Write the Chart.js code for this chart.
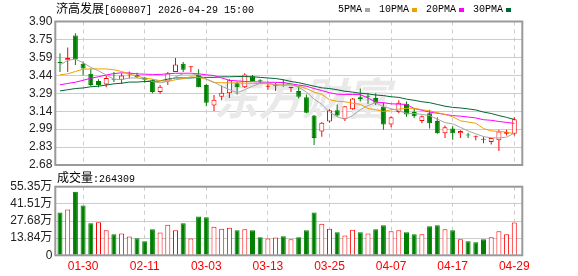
<!DOCTYPE html>
<html>
<head>
<meta charset="utf-8">
<title>济高发展 日K</title>
<script src="https://cdn.jsdelivr.net/npm/chart.js@4.4.1/dist/chart.umd.min.js"></script>
<style>
    html, body { margin: 0; padding: 0; background: #fff; }
    #wrap { position: relative; width: 578px; height: 276px; overflow: hidden; }
    #wrap canvas { position: absolute; left: 0; top: 0; }
    .txt { position: absolute; white-space: pre; color: #000; line-height: 12px; }
    .cjk { font-size: 12px; font-family: "Noto Sans CJK SC", sans-serif; }
    .asc { font-size: 10px; font-family: "Liberation Mono", monospace; }
    #legend { position: absolute; left: 338px; top: 4px; display: flex; align-items: center; line-height: 12px; }
    #legend .item { display: flex; align-items: center; margin-right: 9px; }
    #legend .mark { width: 5px; height: 4px; margin-left: 3px; }
</style>
</head>
<body>
<div id="wrap">
    <canvas id="price" width="578" height="276"></canvas>
    <canvas id="volume" width="578" height="276"></canvas>
    <div class="txt" style="left:56px;top:2px"><span class="cjk">济高发展</span><span class="asc">[600807] 2026-04-29 15:00</span></div>
    <div id="legend"></div>
    <div class="txt" style="left:57px;top:171px"><span class="cjk">成交量</span><span class="asc">:264309</span></div>
</div>
<script>
var dates = ['01-27','01-28','01-29','01-30','02-02','02-03','02-04','02-05','02-06','02-09',
             '02-10','02-11','02-12','02-13','02-24','02-25','02-26','02-27','03-02','03-03',
             '03-04','03-05','03-06','03-09','03-10','03-11','03-12','03-13','03-16','03-17',
             '03-18','03-19','03-20','03-23','03-24','03-25','03-26','03-27','03-30','03-31',
             '04-01','04-02','04-03','04-07','04-08','04-09','04-10','04-13','04-14','04-15',
             '04-16','04-17','04-20','04-21','04-22','04-23','04-24','04-27','04-28','04-29'];
var dateTicks = ['01-30','02-11','03-03','03-13','03-25','04-07','04-17','04-29'];

var opens  = [3.555,3.57,3.78,3.54,3.455,3.395,3.365,3.41,3.405,3.45,
              3.445,3.42,3.405,3.30,3.39,3.47,3.54,3.51,3.445,3.36,
              3.185,3.26,3.29,3.375,3.34,3.435,3.40,3.345,3.35,3.38,
              3.335,3.31,3.255,3.10,2.965,3.05,3.145,3.07,3.155,3.255,
              3.265,3.25,3.175,3.025,3.13,3.20,3.13,3.055,3.12,3.055,
              2.95,2.99,2.95,2.94,2.915,2.90,2.875,2.89,2.945,2.945];
var highs  = [3.63,3.68,3.80,3.56,3.50,3.41,3.44,3.47,3.46,3.475,
              3.465,3.43,3.41,3.36,3.47,3.59,3.555,3.52,3.495,3.37,
              3.275,3.355,3.41,3.39,3.46,3.445,3.41,3.39,3.38,3.41,
              3.345,3.35,3.28,3.105,3.045,3.155,3.195,3.18,3.25,3.33,
              3.29,3.29,3.21,3.095,3.23,3.22,3.165,3.10,3.15,3.085,
              3.015,3.01,2.975,2.955,2.93,2.92,2.91,2.98,2.98,3.085];
var lows   = [3.47,3.47,3.53,3.44,3.35,3.34,3.34,3.385,3.37,3.415,
              3.42,3.38,3.29,3.285,3.36,3.47,3.47,3.47,3.34,3.18,
              3.14,3.23,3.25,3.28,3.335,3.39,3.37,3.32,3.31,3.345,
              3.30,3.245,3.12,2.85,2.92,3.04,3.095,3.055,3.15,3.22,
              3.20,3.19,2.98,3.00,3.12,3.09,3.08,3.035,2.99,2.945,
              2.91,2.895,2.91,2.91,2.89,2.865,2.855,2.80,2.93,2.93];
var closes = [3.545,3.59,3.58,3.50,3.36,3.36,3.42,3.40,3.44,3.46,
              3.425,3.405,3.30,3.345,3.46,3.535,3.49,3.515,3.34,3.21,
              3.235,3.295,3.40,3.34,3.45,3.395,3.39,3.35,3.355,3.375,
              3.34,3.26,3.125,2.91,3.04,3.145,3.10,3.18,3.245,3.24,
              3.26,3.21,3.025,3.085,3.21,3.11,3.095,3.095,3.035,2.95,
              3.00,2.95,2.97,2.93,2.92,2.895,2.91,2.965,2.96,3.07];

var volumes = [346000,369000,513000,401000,258000,266000,202000,170000,175000,152000,
               138000,114000,210000,183000,247000,202000,258000,136000,314000,306000,
               231000,215000,223000,202000,210000,202000,146000,136000,144000,154000,
               130000,146000,202000,346000,255000,215000,186000,159000,207000,186000,
               175000,210000,242000,194000,202000,186000,170000,170000,234000,242000,
               210000,202000,130000,114000,106000,130000,146000,194000,170000,264309];
// R = red (hollow) volume bar, G = green (filled)
var volumeSide = 'GRGGGRRGRRGGGRRRGRGGRRRGRGGRRGRGGGRRGRRGRGGRRGGRGGRGRGGGRRRR';

var ma5  = [3.53,3.57,3.58,3.55,3.51,3.48,3.445,3.41,3.405,3.42,
            3.42,3.41,3.39,3.378,3.39,3.43,3.455,3.455,3.447,3.41,
            3.385,3.35,3.32,3.295,3.32,3.35,3.375,3.378,3.36,3.36,
            3.364,3.34,3.30,3.24,3.196,3.13,3.09,3.068,3.10,3.15,
            3.185,3.21,3.175,3.16,3.14,3.12,3.118,3.11,3.10,3.07,
            3.04,3.03,3.00,2.97,2.945,2.922,2.911,2.91,2.917,2.95];
var ma10 = [3.447,3.455,3.475,3.495,3.497,3.497,3.497,3.49,3.475,3.455,
            3.435,3.42,3.41,3.397,3.39,3.405,3.414,3.43,3.425,3.41,
            3.38,3.38,3.378,3.378,3.375,3.375,3.372,3.37,3.364,3.36,
            3.36,3.35,3.33,3.30,3.28,3.235,3.222,3.218,3.205,3.196,
            3.16,3.15,3.135,3.15,3.155,3.162,3.162,3.15,3.14,3.125,
            3.11,3.09,3.056,3.045,3.035,2.99,2.97,2.965,2.96,2.945];
var ma20 = [3.362,3.373,3.384,3.40,3.418,3.43,3.445,3.457,3.464,3.462,
            3.455,3.452,3.45,3.45,3.455,3.46,3.46,3.46,3.455,3.447,
            3.44,3.42,3.40,3.395,3.39,3.388,3.385,3.383,3.383,3.38,
            3.37,3.36,3.35,3.33,3.313,3.295,3.282,3.28,3.28,3.278,
            3.25,3.215,3.21,3.20,3.198,3.195,3.16,3.145,3.13,3.12,
            3.11,3.10,3.095,3.088,3.08,3.065,3.06,3.05,3.042,3.034];
var ma30 = [3.31,3.32,3.33,3.335,3.345,3.35,3.36,3.37,3.375,3.385,
            3.385,3.39,3.39,3.395,3.41,3.42,3.42,3.42,3.425,3.425,
            3.425,3.43,3.43,3.432,3.432,3.43,3.425,3.42,3.415,3.405,
            3.39,3.38,3.365,3.35,3.336,3.33,3.32,3.307,3.30,3.29,
            3.285,3.275,3.27,3.26,3.255,3.24,3.23,3.218,3.21,3.195,
            3.18,3.17,3.165,3.157,3.148,3.13,3.118,3.10,3.085,3.067];

var maLabels = ['5PMA', '10PMA', '20PMA', '30PMA'];
var priceTicks = ['2.68','2.83','2.99','3.14','3.29','3.44','3.59','3.75','3.90'];
var volumeTicks = ['0','13.84万','27.68万','41.51万','55.35万'];

(function () {
    "use strict";

    var RED = '#ff0000', GREEN = '#008000';
    var maColors = ['#a6a6a6', '#f0a000', '#ff00ff', '#006633'];
    var labelFont = {family: '"Liberation Sans", "Noto Sans CJK SC", sans-serif', size: 12};
    var priceMin = 2.68, priceMax = 3.90, volumeMax = 553500;
    var xMin = -0.61, xMax = 60.04;

    // Legend
    var legend = document.getElementById('legend');
    maLabels.forEach(function (name, k) {
        var item = document.createElement('div');
        item.className = 'item';
        item.innerHTML = '<span class="asc">' + name + '</span><span class="mark" style="background:' + maColors[k] + '"></span>';
        legend.appendChild(item);
    });

    // Panel frame
    var frame = {
        id: 'frame',
        afterDraw: function (chart) {
            var a = chart.chartArea, c = chart.ctx;
            c.save();
            c.strokeStyle = '#9a9a9a';
            c.lineWidth = 2;
            c.strokeRect(a.left, a.top, a.right - a.left, a.bottom - a.top);
            c.restore();
        }
    };

    // Watermark
    var watermark = {
        id: 'watermark',
        beforeDatasetsDraw: function (chart) {
            var c = chart.ctx;
            c.save();
            c.fillStyle = '#e9e9e9';
            c.font = 'italic bold 44px "Noto Sans CJK SC"';
            c.textBaseline = 'middle';
            c.fillText('东方财富', 214, 98);
            c.restore();
        }
    };

    function evenTicks(labels, min, max) {
        return function (scale) {
            scale.ticks = labels.map(function (l, k) {
                return {value: min + k * (max - min) / (labels.length - 1)};
            });
        };
    }

    function xAxis(showLabels) {
        return {
            type: 'linear', min: xMin, max: xMax, offset: false,
            afterBuildTicks: function (scale) {
                scale.ticks = dateTicks.map(function (d) { return {value: dates.indexOf(d)}; });
            },
            afterFit: function (scale) { scale.height = showLabels ? 20.7 : 0; },
            ticks: {
                display: showLabels, autoSkip: false, maxRotation: 0, padding: 4,
                color: RED, font: labelFont,
                callback: function (v) { return dates[v]; }
            },
            grid: {color: '#cccccc', drawTicks: false, offset: false},
            border: {display: false, dash: [4, 4]}
        };
    }

    function yAxis(labels, min, max) {
        return {
            min: min, max: max,
            afterBuildTicks: evenTicks(labels, min, max),
            afterFit: function (scale) { scale.width = 55.3; },
            ticks: {
                padding: 3, color: '#222', font: labelFont, autoSkip: false,
                callback: function (v, idx) { return labels[idx]; }
            },
            grid: {color: '#cccccc', drawTicks: false},
            border: {display: false}
        };
    }

    function line(values, k) {
        return {
            type: 'line', label: maLabels[k], order: 0,
            data: values.map(function (v, i) { return {x: i, y: v}; }),
            borderColor: maColors[k], borderWidth: 1, pointRadius: 0, tension: 0
        };
    }

    // Price Chart
    var up = opens.map(function (o, i) { return closes[i] >= o; });
    var candleColor = up.map(function (u) { return u ? RED : GREEN; });

    new Chart(document.getElementById('price'), {
        type: 'bar',
        data: {
            datasets: [{
                label: 'body', order: 1, grouped: false,
                data: opens.map(function (o, i) { return {x: i, y: [o, closes[i]]}; }),
                backgroundColor: up.map(function (u) { return u ? '#ffffff' : GREEN; }),
                borderColor: candleColor, borderWidth: 1, borderSkipped: false,
                barThickness: 5, minBarLength: 1, inflateAmount: 0
            }, {
                label: 'wick', order: 2, grouped: false,
                data: lows.map(function (l, i) { return {x: i, y: [l, highs[i]]}; }),
                backgroundColor: candleColor, borderWidth: 0,
                barThickness: 1, inflateAmount: 0
            },
            line(ma5, 0), line(ma10, 1), line(ma20, 2), line(ma30, 3)]
        },
        options: {
            responsive: false, animation: false,
            layout: {padding: {left: 0, right: 55.7, top: 21.5, bottom: 111}},
            plugins: {legend: {display: false}, tooltip: {enabled: false}},
            scales: {x: xAxis(false), y: yAxis(priceTicks, priceMin, priceMax)}
        },
        plugins: [watermark, frame]
    });

    // Volume Chart
    var volRed = volumeSide.split('').map(function (s) { return s === 'R'; });

    new Chart(document.getElementById('volume'), {
        type: 'bar',
        data: {
            datasets: [{
                label: 'volume', grouped: false,
                data: volumes.map(function (v, i) { return {x: i, y: v}; }),
                backgroundColor: volRed.map(function (r) { return r ? '#ffffff' : GREEN; }),
                borderColor: volRed.map(function (r) { return r ? RED : GREEN; }),
                borderWidth: 1, borderSkipped: 'start',
                barThickness: 5, inflateAmount: 0
            }]
        },
        options: {
            responsive: false, animation: false,
            layout: {padding: {left: 0, right: 55.7, top: 186.7, bottom: 0}},
            plugins: {legend: {display: false}, tooltip: {enabled: false}},
            scales: {x: xAxis(true), y: yAxis(volumeTicks, 0, volumeMax)}
        },
        plugins: [frame]
    });
})();
</script>
</body>
</html>
